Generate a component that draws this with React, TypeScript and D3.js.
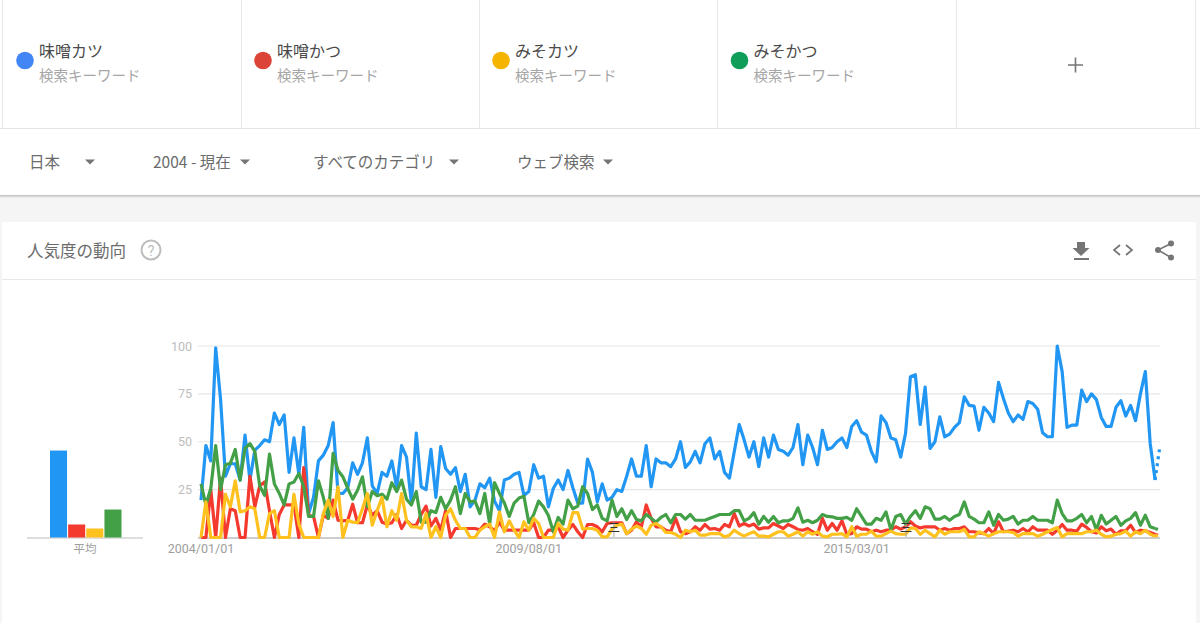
import React from "react";
import * as d3 from "d3";

const terms = ["味噌カツ", "味噌かつ", "みそカツ", "みそかつ"];
const subLabel = "検索キーワード";
const filters = ["日本", "2004 - 現在", "すべてのカテゴリ", "ウェブ検索"];
const yTicks = [25, 50, 75, 100];
const xTickLabels = ["2004/01/01", "2009/08/01", "2015/03/01"];
const xTickIndex = [0, 67, 134];
const averages = [45.4, 6.8, 4.7, 14.6];
const lineColors = ["#2196F3", "#F4392F", "#FFC11E", "#43A047"];
const dotColors = ["#4285F4", "#DB4437", "#F4B400", "#0F9D58"];
const noteIndex = [84.3, 144];

const blue = [
  19.5,48,40,99,72,32,38.5,38.5,30,53.5,
  30,45.6,48,51,50,65,59,64,34,52,
  33,57.5,12.5,21,40,43,48,60,23,23,
  26,39,33,39,52,27,23,34,32,40,
  26,48,42,18,54.5,26.5,25,46,21,47.5,
  36,33,36.5,24,33,16,19.5,28,26,31,
  19,14,30,31,33,34,22,24,38,31,
  32,16,25.6,30,25,35,26,18,18,41,
  34,18.6,28,19.5,21,25,24,32,41,32,
  32,48,26.5,41,39,39,37,41,50,36.6,
  39.5,45,39,49,52,41,45,34,31,45,
  59,51,42,50,37,52,42,53.5,46,45,
  43,47,59,38,53.5,47,38,56,46,47,
  50,52,47,58,61,55,53.5,45,39.5,63.5,
  60,52,51,42,54.5,84,85,59,78.5,46.5,
  50,63,52.6,54,57.5,60,73.5,69,68.6,56,
  68,65,60.5,81,72.6,65,60.5,64,61.7,71,
  70,67,54.7,52.6,52.6,100,86.6,57.5,58.7,58.7,
  77,71,75,72,62.7,58,58,68,71.4,63.4,
  69,61,75,86.6,49,30,48,
];
const red = [
  0,0,25,0,31,0,15,14,0,0,
  32,16,27,29,14,0,12,17,17,17,
  0,36.5,11.6,11,0,11.6,10,19.5,9,8.7,
  9,17.4,7.7,7.7,17,11.6,14,8,7,7.7,
  12,4.7,9,6.4,6.4,12,16.4,6,10,4,
  14,0,4.7,4.7,4.7,4.7,4.7,4,7,5.6,
  3.5,8,3.8,3.8,3.8,3.8,3.8,3.8,7.7,0,
  0,3.8,3.8,5.6,0,3.8,6.8,3,0,6.8,
  6.8,5.6,3,7.3,7.7,7.7,7.7,2,3.8,8.2,
  5.6,17,10,5.6,5.6,3.8,3,10,3,2,
  3,5.6,3.8,6.8,4.4,4.7,3.8,6.8,5.6,12.5,
  6,7.3,6,7,4.4,5,5,7.3,6,4.7,
  6.8,5.6,4.2,3.8,4.7,3,1.7,10,3.8,7.3,
  3.8,8.7,1.7,2,5.6,4.4,4.4,3,3.8,3,
  3.8,3.8,5.6,4.4,5.6,8.2,6,5,5.6,5.6,
  5.6,3.8,4.7,3.8,4.7,4.7,5.6,3,3,2.4,
  2,4.7,2,8.2,3,3.3,3.8,3,4.7,3,
  5.6,3.8,3.8,3.8,1.7,3.8,6.8,3.8,3.8,3.3,
  7,5.3,3,2.4,5.6,3.5,4.4,1.7,3.5,3.5,
  6.4,2.6,3.8,3.5,2.6,1.7,0.7,
];
const yellow = [
  0,18.6,0,0,0,22.6,16,29.6,13.4,14,
  16,15,0,0,12.5,14,0,0,0,22.6,
  7,0,0,0,0,12.5,19.5,11,26.5,0,
  9,8,7.7,15,23,6.4,14,21,5.6,14,
  9,23,9,5.6,5.6,4.7,12.5,0,5.6,0,
  11.6,15,9,4.7,4.7,0,0,3.8,5.6,7,
  0,13.4,3,8.7,3.8,0,8.2,3.8,10,7.3,
  0,0,0,7.3,4.4,3.8,13,13,4.4,4.7,
  4.7,3.8,0.3,0.3,4.4,6.4,7,2,4.4,6,
  4.7,1.7,6.4,7.3,5.6,2.6,2.6,1.7,0,3.8,
  3,3.8,1.2,1.2,2,2,2,0.3,1.2,3.8,
  2,0.7,2,3,0.7,0.7,0.3,1.7,3,3,
  0.7,1.7,3,0.7,3,1.7,3,0.7,0.3,1.7,
  1.7,2,0.3,5.6,0.7,1.7,1.7,3.3,0.7,0.7,
  2,3.3,2,1.7,1.7,5,4.7,1.7,3.8,2,
  0.3,3.8,1.7,3,3,3,4.2,0.3,0.3,3,
  2,0.7,2,3,3,3,2.6,0.7,2,2,
  2,0.7,1.7,3,4.2,5.2,0.3,2,2,2,
  2,3,3,3.8,1.7,0.3,0.7,1.7,2,3.3,
  0.7,3,2,3.8,1.7,0.7,1.7,
];
const green = [
  28,17,25.6,48,25,38,38.7,46,30,46.5,
  49,45,27,22,43.5,28,23,17,28,29,
  33.4,26.5,11,11,29.6,21,10,44,35,31.7,
  25.6,20,24.7,31.7,16,24,21.8,22.6,20,28.6,
  24,30,20,17,24,8,8,14,13,21,
  15,19.5,26.5,12.5,23,18.6,19,12.5,23,7,
  28.6,23,18,11,18,20.6,21.5,7.7,12,19,
  16,11.5,3,10.5,7,19.5,15,16.4,26.5,23,
  14.6,17,10,8.7,19.5,11,15,9.4,14,9.4,
  8.7,12,10,8,10.5,12,7.7,12,12,9.6,
  12,9,9,9,10,11,12,12,12,14,
  14,8.7,10,13,7,11,8,11,7.7,8.7,
  8.7,10,15.5,8,9,7.7,9,12,11,10.8,
  10,10,10.5,9,15,11,7,7,10,9,
  13.4,4,11,12,7,11,14,10,16,15,
  9.6,9.6,11,9,11,12,18.6,11,9.6,7.7,
  7.7,13.4,6.4,12,9,9.6,11,7,9,9,
  11,9,9,9,7.7,19.5,12.5,8.7,8.7,10,
  12,7.7,11,4,11.6,7,9,11,6.4,8.7,
  10,13,6.4,11.6,5.6,4.7,3.8,
];
const series = [blue, red, yellow, green];
const drawOrder = [0, 1, 3, 2];

const JP = "'Noto Sans CJK JP','Noto Sans',sans-serif";
const LAT = "Roboto,'Noto Sans CJK JP',sans-serif";

const x = d3.scaleLinear().domain([0, 196]).range([201, 1160]);
const y = d3.scaleLinear().domain([0, 100]).range([537.5, 346]);
const line = d3.line<number>().x((_, i) => x(i)).y((d) => y(d));
const barX = d3.scaleBand<number>().domain([0, 1, 2, 3]).range([50, 121.5]).paddingInner(0.06);

const cardEdges = [2, 241, 479, 717, 956, 1195];
const filterX = [29, 153, 313, 517];
const caretX = [90, 245, 454, 608];

export default function App() {
  return (
    <svg
      width={1200}
      height={623}
      style={{ position: "absolute", left: 0, top: 0, display: "block", background: "#fff" }}
    >
      <defs>
        <linearGradient id="sh" x1="0" y1="0" x2="0" y2="1">
          <stop offset="0" stopColor="#bdbdbd" />
          <stop offset="1" stopColor="#f5f5f5" />
        </linearGradient>
      </defs>
      {/* top cards */}
      {cardEdges.map((e) => (
        <line key={e} x1={e + 0.5} x2={e + 0.5} y1={0} y2={128} stroke="#e8e8e8" />
      ))}
      <line x1={0} x2={1200} y1={128.5} y2={128.5} stroke="#e4e4e4" />
      {terms.map((t, i) => {
        const ox = [25, 263, 501, 739.5][i];
        return (
          <g key={t}>
            <circle cx={ox} cy={60.5} r={8.8} fill={dotColors[i]} />
            <text x={ox + 14} y={49.5} dominantBaseline="central" fontFamily={JP} fontSize={16} fill="#4a4a4a">
              {t}
            </text>
            <text x={ox + 14} y={74.5} dominantBaseline="central" fontFamily={JP} fontSize={14.5} fill="#a6a6a6">
              {subLabel}
            </text>
          </g>
        );
      })}
      <path d="M1075.5 57.5V72.5M1068 65H1083" stroke="#757575" strokeWidth={1.6} fill="none" />

      {/* filters */}
      {filters.map((f, i) => (
        <g key={f}>
          <text x={filterX[i]} y={161} dominantBaseline="central" fontFamily={JP} fontSize={15.5} fill="#6b6b6b">
            {f}
          </text>
          <path d={`M${caretX[i] - 5} 159.5h10l-5 5z`} fill="#757575" />
        </g>
      ))}

      {/* page background */}
      <rect x={0} y={196} width={1200} height={427} fill="#f5f5f5" />
      <rect x={0} y={195} width={1200} height={3} fill="url(#sh)" />
      <rect x={2} y={222} width={1194} height={401} fill="#fff" />
      <line x1={2} x2={1196} y1={279.5} y2={279.5} stroke="#e8e8e8" />
      <text x={27} y={249.5} dominantBaseline="central" fontFamily={JP} fontSize={16.5} fill="#6b6b6b">
        人気度の動向
      </text>
      <circle cx={151} cy={250} r={9.5} fill="none" stroke="#bdbdbd" strokeWidth={2} />
      <text x={151} y={250.5} textAnchor="middle" dominantBaseline="central" fontFamily={LAT} fontSize={14} fill="#bdbdbd">
        ?
      </text>
      {/* header icons */}
      <path d="M1077 242h8v6h4.5l-8.500 8-8.500-8h4.500z M1074 258h15v2h-15z" fill="#757575" />
      <path d="M1120 245l-6 5 6 5 M1126 245l6 5-6 5" fill="none" stroke="#757575" strokeWidth={1.7} />
      <path d="M1171 243.500L1158 250l13 7.500" fill="none" stroke="#757575" strokeWidth={1.6} />
      <circle cx={1171} cy={243.500} r={3} fill="#757575" />
      <circle cx={1158} cy={250} r={3} fill="#757575" />
      <circle cx={1171} cy={257.500} r={3} fill="#757575" />

      {/* average bars */}
      <line x1={27} x2={143} y1={538} y2={538} stroke="#bdbdbd" strokeWidth={1.2} />
      {averages.map((v, i) => (
        <rect
          key={i}
          x={barX(i)}
          y={y(v)}
          width={barX.bandwidth()}
          height={y(0) - y(v)}
          fill={lineColors[i]}
        />
      ))}
      <text x={85} y={548} textAnchor="middle" dominantBaseline="central" fontFamily={JP} fontSize={11.5} fill="#9e9e9e">
        平均
      </text>

      {/* main chart */}
      {yTicks.map((t) => (
        <g key={t}>
          <line x1={198} x2={1160} y1={y(t)} y2={y(t)} stroke="#e6e6e6" strokeWidth={1.2} />
          <text x={192} y={y(t)} textAnchor="end" dominantBaseline="central" fontFamily={LAT} fontSize={12.5} fill="#bdbdbd">
            {t}
          </text>
        </g>
      ))}
      <line x1={198} x2={1160} y1={538} y2={538} stroke="#bdbdbd" strokeWidth={1.4} />
      {xTickLabels.map((l, i) => (
        <text key={l} x={x(xTickIndex[i])} y={548} textAnchor="middle" dominantBaseline="central" fontFamily={LAT} fontSize={12.5} fill="#9e9e9e">
          {l}
        </text>
      ))}
      {drawOrder.map((s) => {
        const vals = series[s];
        const solid = vals.slice(0, vals.length - 1);
        const tail = vals.slice(vals.length - 2);
        return (
          <g key={s} fill="none" stroke={lineColors[s]} strokeWidth={3.2} strokeLinejoin="round">
            <path d={line(solid) ?? ""} />
            <path
              d={d3.line<number>().x((_, i) => x(vals.length - 2 + i)).y((d) => y(d))(tail) ?? ""}
              strokeDasharray="3 4"
            />
          </g>
        );
      })}
      {/* annotation markers */}
      {noteIndex.map((n) => (
        <g key={n} stroke="#333" strokeWidth={1} fill="none">
          <line x1={x(n) + 0.5} x2={x(n) + 0.5} y1={522} y2={537} stroke="#aaa" />
          <path d={`M${x(n) - 4} 523.500h9M${x(n) - 3} 527.500h7M${x(n) - 5} 531.500h11`} />
        </g>
      ))}
    </svg>
  );
}
